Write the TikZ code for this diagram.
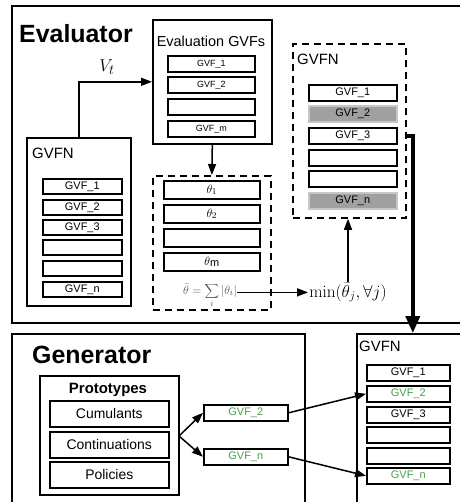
\documentclass[tikz,border=0pt]{standalone}
\usepackage[no-math]{fontspec}
\setmainfont{Liberation Sans}
\usetikzlibrary{arrows.meta}
\definecolor{gvgreen}{RGB}{70,160,70}
\definecolor{gvgray}{RGB}{160,160,160}
\newcommand\myfs[1]{\fontsize{#1}{#1}\selectfont}
\begin{document}
\begin{tikzpicture}[x=1bp,y=-1bp,
  box/.style={draw, line width=1.6bp, inner sep=0pt, anchor=north west},
  dbox/.style={box, line width=1.8bp, dash pattern=on 7bp off 5bp},
  cell/.style={draw, line width=1.6bp, inner sep=0pt, anchor=north west},
  graycell/.style={cell, fill=gvgray, draw=black!22},
  title/.style={anchor=base west, inner sep=0pt, font=\myfs{15}},
  bigtitle/.style={anchor=base west, inner sep=0pt, font=\bfseries\myfs{25}},
  arr/.style={line width=1.5bp, -{Triangle[length=11bp,width=8bp]}},
  thickarr/.style={line width=3.6bp, -{Triangle[length=17bp,width=14bp]}}
]
\useasboundingbox (0,0) rectangle (460,502);
\clip (0,0) rectangle (460,502);

% ---------------- Evaluator ----------------
\node[box, minimum width=470bp, minimum height=317bp] (evalbox) at (11,5) {};
\node[bigtitle] (evaltitle) at (19,43) {Evaluator};

% Evaluation GVFs
\node[box, minimum width=119bp, minimum height=124bp] (evgvf) at (152,19) {};
\node[anchor=base, inner sep=0pt, font=\myfs{14.5}] (evtitle) at (211,47) {Evaluation GVFs};
\begin{scope}[every node/.append style={minimum width=87bp, minimum height=16bp, font=\myfs{9}}]
\node[cell] (e1) at (167,55) {GVF\_1};
\node[cell] (e2) at (167,76) {GVF\_2};
\node[cell] (e3) at (167,98) {};
\node[cell] (e4) at (167,120) {GVF\_m};
\end{scope}

% GVFN left
\node[box, minimum width=104bp, minimum height=168bp] (gvfnL) at (26,137) {};
\node[title] (gvfnLt) at (32,159) {GVFN};
\begin{scope}[every node/.append style={minimum width=79bp, minimum height=15bp, font=\myfs{11}}]
\node[cell] (l1) at (42,178) {GVF\_1};
\node[cell] (l2) at (42,199) {GVF\_2};
\node[cell] (l3) at (42,219) {GVF\_3};
\node[cell] (l4) at (42,239) {};
\node[cell] (l5) at (42,260) {};
\node[cell] (l6) at (42,281) {GVF\_n};
\end{scope}

\draw[arr] (gvfnL.north) |- (evgvf.west);
\node[font=\myfs{19}, inner sep=0pt] (vt) at (107,67) {$V_t$};

% theta box
\node[dbox, minimum width=118bp, minimum height=134bp] (thbox) at (152,175) {};
\draw[arr] (evgvf.south) -- (thbox.north);
\begin{scope}[every node/.append style={minimum width=96bp, minimum height=18bp, font=\myfs{13}}]
\node[cell] (t1) at (163,180) {$\theta_1$};
\node[cell] (t2) at (163,204) {$\theta_2$};
\node[cell] (t3) at (163,228) {};
\node[cell] (t4) at (163,252) {$\theta$\raisebox{-1.5bp}{\myfs{11}m}};
\end{scope}
\node[anchor=base, inner sep=0pt, font=\myfs{13}, text=black!65] (formula) at (210,294)
  {$\displaystyle\bar\theta=\sum_i|\theta_i|$};

% min node
\node[anchor=base, inner sep=1bp, font=\myfs{17}] (mn) at (348,297) {$\min(\bar\theta_j,\forall j)$};
\draw[arr] (formula.east |- mn.west) -- (mn.west);

% GVFN right (dashed)
\node[dbox, minimum width=113bp, minimum height=174bp] (gvfnR) at (292,43) {};
\node[title] (gvfnRt) at (297,65) {GVFN};
\begin{scope}[every node/.append style={minimum width=88bp, minimum height=16bp, font=\myfs{11}}]
\node[cell] (r1) at (308,84) {GVF\_1};
\node[graycell] (r2) at (308,105) {GVF\_2};
\node[cell] (r3) at (308,127) {GVF\_3};
\node[cell] (r4) at (308,149) {};
\node[cell] (r5) at (308,170) {};
\node[graycell] (r6) at (308,192) {GVF\_n};
\end{scope}
\draw[arr] (mn.north) -- (mn.north |- gvfnR.south);

% ---------------- Generator ----------------
\node[box, minimum width=293bp, minimum height=190bp] (gen) at (11,333) {};
\node[bigtitle] (gentitle) at (32,363) {Generator};

\node[box, minimum width=139bp, minimum height=119bp] (proto) at (39,375) {};
\node[anchor=base, inner sep=0pt, font=\bfseries\myfs{15}] (prototitle) at (108,393) {Prototypes};
\begin{scope}[every node/.append style={minimum width=119bp, minimum height=26bp, font=\myfs{14}}]
\node[cell] (p1) at (49,400) {Cumulants};
\node[cell] (p2) at (49,431) {Continuations};
\node[cell] (p3) at (49,461) {Policies};
\end{scope}

\begin{scope}[every node/.append style={minimum width=84bp, minimum height=16bp, font=\myfs{11}, text=gvgreen}]
\node[cell] (gv2) at (203,404) {GVF\_2};
\node[cell] (gvn) at (203,448) {GVF\_n};
\end{scope}
\coordinate (fork) at (179,436);
\draw[arr] (fork) -- (gv2.west);
\draw[arr] (fork) -- (gvn.west);

% GVFN bottom right
\node[box, minimum width=112bp, minimum height=190bp] (gvfnB) at (356,333) {};
\node[title] (gvfnBt) at (359,351) {GVFN};
\begin{scope}[every node/.append style={minimum width=83bp, minimum height=16bp, font=\myfs{11}}]
\node[cell] (b1) at (366,364) {GVF\_1};
\node[cell, text=gvgreen] (b2) at (366,385) {GVF\_2};
\node[cell] (b3) at (366,406) {GVF\_3};
\node[cell] (b4) at (366,426) {};
\node[cell] (b5) at (366,447) {};
\node[cell, text=gvgreen] (b6) at (366,467) {GVF\_n};
\end{scope}

\draw[arr] (gv2.east) -- (b2.west);
\draw[arr] (gvn.east) -- (b6.west);

\draw[thickarr] (r3.east -| gvfnR.east) -| (gvfnB.north);
\end{tikzpicture}
\end{document}
